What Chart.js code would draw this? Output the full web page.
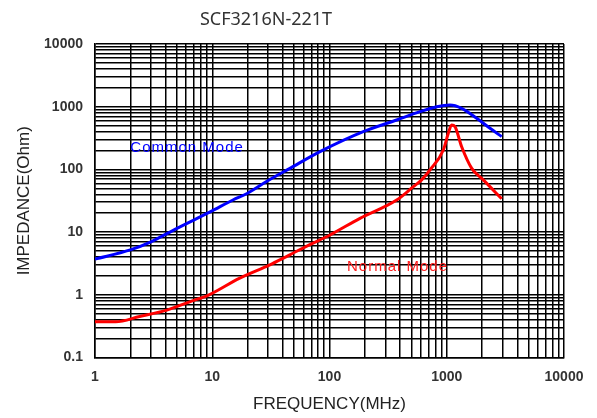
<!DOCTYPE html>
<html lang="en">
<head>
    <meta charset="UTF-8">
    <title>SCF3216N-221T Impedance</title>
    <script src="https://cdn.jsdelivr.net/npm/chart.js"></script>
    <style>
        body { margin: 0; background: #fff; }
    </style>
</head>
<body>
    <canvas id="impChart" width="597" height="418"></canvas>

    <script>
        // data
        const cmFreq = [1, 2, 3, 5, 9.6, 15, 20, 29, 46, 83, 194, 374, 591, 821, 1066, 1340, 1800, 2340, 2940];
        const cmImp  = [3.7, 5.2, 7.0, 11.5, 21, 32.5, 41.6, 64, 104, 192, 400, 614, 833, 1000, 1065, 942, 653, 452, 333];

        const nmFreq = [1, 1.5, 2.4, 4.1, 6.5, 9.3, 17, 31, 40, 52, 68, 101, 182, 374, 519, 611, 720, 935, 1031, 1100, 1175, 1340, 1633, 2050, 2940];
        const nmImp  = [0.37, 0.37, 0.45, 0.57, 0.78, 0.99, 1.83, 3.0, 3.8, 4.9, 6.3, 9.0, 16.6, 32.5, 53, 68, 98, 204, 376, 511, 480, 230, 104, 68, 34];

        const xDecades = [1, 10, 100, 1000, 10000];
        const yDecades = [0.1, 1, 10, 100, 1000, 10000];

        const chartTitle = 'SCF3216N-221T';
        const xTitle = 'FREQUENCY(MHz)';
        const yTitle = 'IMPEDANCE(Ohm)';

        // 1..9 in every decade, for the log grid
        function gridValues(decades) {
            const vals = [];
            decades.forEach((d, i) => {
                if (i === decades.length - 1) { vals.push(d); return; }
                for (let k = 1; k < 10; k++) vals.push(d * k);
            });
            return vals;
        }

        function isDecade(v) {
            const l = Math.log10(v);
            return Math.abs(l - Math.round(l)) < 1e-9;
        }

        const toPoints = (xs, ys) => xs.map((x, i) => ({ x: x, y: ys[i] }));

        const tickFont = { family: 'Liberation Sans, Arial, sans-serif', size: 14, weight: 'bold' };
        const axisTitleFont = { family: 'Liberation Sans, Arial, sans-serif', size: 17 };

        const textPlugin = {
            id: 'textPlugin',
            afterDraw(chart) {
                const c = chart.ctx;
                const xs = chart.scales.x, ys = chart.scales.y;
                c.save();
                c.textBaseline = 'middle';
                c.font = '18px "Noto Sans", sans-serif';
                c.fillStyle = '#333';
                c.textAlign = 'center';
                c.fillText(chartTitle, 266, 20);

                c.textAlign = 'left';
                c.font = '15px "Liberation Sans", Arial, sans-serif';
                c.letterSpacing = '1px';
                c.fillStyle = '#0000ff';
                c.fillText('Common Mode', xs.getPixelForValue(2), ys.getPixelForValue(220));
                c.fillStyle = '#ff2020';
                c.fillText('Normal Mode', xs.getPixelForValue(141), ys.getPixelForValue(2.8));
                c.restore();
            }
        };

        const ctx = document.getElementById('impChart').getContext('2d');
        const impChart = new Chart(ctx, {
            type: 'scatter',
            data: {
                datasets: [
                    {
                        label: 'Common Mode',
                        data: toPoints(cmFreq, cmImp),
                        showLine: true,
                        borderColor: '#0000ff',
                        borderWidth: 3,
                        pointRadius: 0,
                        cubicInterpolationMode: 'monotone'
                    },
                    {
                        label: 'Normal Mode',
                        data: toPoints(nmFreq, nmImp),
                        showLine: true,
                        borderColor: '#ff0000',
                        borderWidth: 3,
                        pointRadius: 0,
                        cubicInterpolationMode: 'monotone'
                    }
                ]
            },
            options: {
                responsive: false,
                animation: false,
                layout: { padding: { top: 44, right: 33, left: 0, bottom: 0 } },
                plugins: {
                    legend: { display: false },
                    tooltip: { enabled: false },
                    title: { display: false }
                },
                scales: {
                    x: {
                        type: 'logarithmic',
                        min: 1,
                        max: 10000,
                        afterBuildTicks: s => { s.ticks = gridValues(xDecades).map(v => ({ value: v })); },
                        afterFit: s => { s.height = 60.5; },
                        ticks: {
                            autoSkip: false,
                            maxRotation: 0,
                            padding: 11,
                            color: '#333',
                            font: tickFont,
                            callback: v => isDecade(v) ? String(v) : ''
                        },
                        grid: { color: '#000', lineWidth: 1.5, drawTicks: false },
                        border: { color: '#000', width: 1.5 },
                        title: { display: true, text: xTitle, color: '#222', font: axisTitleFont, padding: { top: 0, bottom: 3 } }
                    },
                    y: {
                        type: 'logarithmic',
                        min: 0.1,
                        max: 10000,
                        afterBuildTicks: s => { s.ticks = gridValues(yDecades).map(v => ({ value: v })); },
                        afterFit: s => { s.width = 95; },
                        ticks: {
                            autoSkip: false,
                            padding: 12,
                            color: '#333',
                            font: tickFont,
                            callback: v => isDecade(v) ? String(+v.toPrecision(6)) : ''
                        },
                        grid: { color: '#000', lineWidth: 1.5, drawTicks: false },
                        border: { color: '#000', width: 1.5 },
                        title: { display: true, text: yTitle, color: '#222', font: axisTitleFont, padding: { top: 14, bottom: 0 } }
                    }
                }
            },
            plugins: [textPlugin]
        });
    </script>
</body>
</html>
